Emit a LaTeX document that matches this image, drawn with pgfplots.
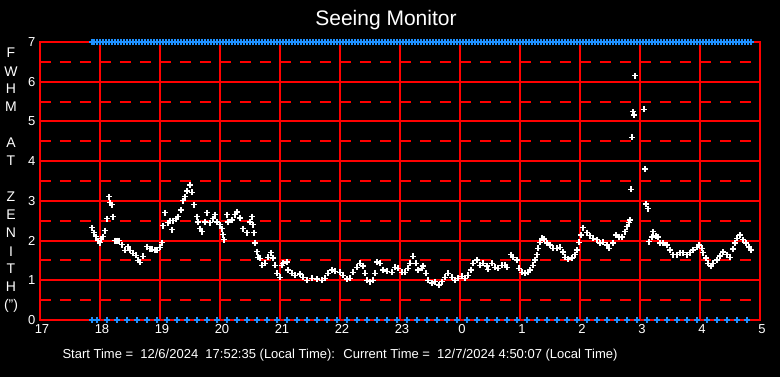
\documentclass[border=0pt]{standalone}
\usepackage{fontspec}
\setmainfont{Liberation Sans}
\usepackage{pgfplots}
\pgfplotsset{compat=1.18}
\definecolor{seeblue}{RGB}{30,144,255}
\tikzset{gridline/.style={red, line width=2pt}, halfline/.style={red, line width=2pt, dash pattern=on 11pt off 9pt}}
\begin{document}
\begin{tikzpicture}
\fill[black] (-40pt,-57pt) rectangle (740pt,320pt);
\begin{axis}[at={(0,0)}, anchor=south west, scale only axis,
  width=720pt, height=278pt,
  xmin=17, xmax=29, ymin=0, ymax=7,
  axis line style={red, line width=2pt},
  xtick={17,...,29}, xticklabels={17,18,19,20,21,22,23,0,1,2,3,4,5},
  ytick={0,...,7}, yticklabels={0,1,2,3,4,5,6,7},
  grid=none,
  tick style={draw=none}, major tick length=0pt,
  /pgf/number format/assume math mode=true,
  ticklabel style={white, font=\fontsize{13}{13}\selectfont},
  xticklabel style={yshift=-1pt, xshift=2pt},
  yticklabel style={xshift=-1pt},
  clip=false,
]
% grid
\draw[gridline] (axis cs:18,0) -- (axis cs:18,7);
\draw[gridline] (axis cs:19,0) -- (axis cs:19,7);
\draw[gridline] (axis cs:20,0) -- (axis cs:20,7);
\draw[gridline] (axis cs:21,0) -- (axis cs:21,7);
\draw[gridline] (axis cs:22,0) -- (axis cs:22,7);
\draw[gridline] (axis cs:23,0) -- (axis cs:23,7);
\draw[gridline] (axis cs:24,0) -- (axis cs:24,7);
\draw[gridline] (axis cs:25,0) -- (axis cs:25,7);
\draw[gridline] (axis cs:26,0) -- (axis cs:26,7);
\draw[gridline] (axis cs:27,0) -- (axis cs:27,7);
\draw[gridline] (axis cs:28,0) -- (axis cs:28,7);
\draw[gridline] (axis cs:17,1) -- (axis cs:29,1);
\draw[gridline] (axis cs:17,2) -- (axis cs:29,2);
\draw[gridline] (axis cs:17,3) -- (axis cs:29,3);
\draw[gridline] (axis cs:17,4) -- (axis cs:29,4);
\draw[gridline] (axis cs:17,5) -- (axis cs:29,5);
\draw[gridline] (axis cs:17,6) -- (axis cs:29,6);
\draw[halfline] (axis cs:17,0.5) -- (axis cs:29,0.5);
\draw[halfline] (axis cs:17,1.5) -- (axis cs:29,1.5);
\draw[halfline] (axis cs:17,2.5) -- (axis cs:29,2.5);
\draw[halfline] (axis cs:17,3.5) -- (axis cs:29,3.5);
\draw[halfline] (axis cs:17,4.5) -- (axis cs:29,4.5);
\draw[halfline] (axis cs:17,5.5) -- (axis cs:29,5.5);
\draw[halfline] (axis cs:17,6.5) -- (axis cs:29,6.5);
% top blue markers
\addplot[only marks, mark=+, mark size=3pt, seeblue, line width=1.2pt] coordinates {
(17.867,7)(17.9,7)(17.95,7)
(18,7)(18.05,7)(18.1,7)(18.15,7)(18.2,7)(18.25,7)(18.3,7)(18.35,7)(18.4,7)(18.45,7)(18.5,7)(18.55,7)(18.6,7)(18.65,7)(18.7,7)(18.75,7)(18.8,7)(18.85,7)(18.9,7)(18.95,7)
(19,7)(19.05,7)(19.1,7)(19.15,7)(19.2,7)(19.25,7)(19.3,7)(19.35,7)(19.4,7)(19.45,7)(19.5,7)(19.55,7)(19.6,7)(19.65,7)(19.7,7)(19.75,7)(19.8,7)(19.85,7)(19.9,7)(19.95,7)
(20,7)(20.05,7)(20.1,7)(20.15,7)(20.2,7)(20.25,7)(20.3,7)(20.35,7)(20.4,7)(20.45,7)(20.5,7)(20.55,7)(20.6,7)(20.65,7)(20.7,7)(20.75,7)(20.8,7)(20.85,7)(20.9,7)(20.95,7)
(21,7)(21.05,7)(21.1,7)(21.15,7)(21.2,7)(21.25,7)(21.3,7)(21.35,7)(21.4,7)(21.45,7)(21.5,7)(21.55,7)(21.6,7)(21.65,7)(21.7,7)(21.75,7)(21.8,7)(21.85,7)(21.9,7)(21.95,7)
(22,7)(22.05,7)(22.1,7)(22.15,7)(22.2,7)(22.25,7)(22.3,7)(22.35,7)(22.4,7)(22.45,7)(22.5,7)(22.55,7)(22.6,7)(22.65,7)(22.7,7)(22.75,7)(22.8,7)(22.85,7)(22.9,7)(22.95,7)
(23,7)(23.05,7)(23.1,7)(23.15,7)(23.2,7)(23.25,7)(23.3,7)(23.35,7)(23.4,7)(23.45,7)(23.5,7)(23.55,7)(23.6,7)(23.65,7)(23.7,7)(23.75,7)(23.8,7)(23.85,7)(23.9,7)(23.95,7)
(24,7)(24.05,7)(24.1,7)(24.15,7)(24.2,7)(24.25,7)(24.3,7)(24.35,7)(24.4,7)(24.45,7)(24.5,7)(24.55,7)(24.6,7)(24.65,7)(24.7,7)(24.75,7)(24.8,7)(24.85,7)(24.9,7)(24.95,7)
(25,7)(25.05,7)(25.1,7)(25.15,7)(25.2,7)(25.25,7)(25.3,7)(25.35,7)(25.4,7)(25.45,7)(25.5,7)(25.55,7)(25.6,7)(25.65,7)(25.7,7)(25.75,7)(25.8,7)(25.85,7)(25.9,7)(25.95,7)
(26,7)(26.05,7)(26.1,7)(26.15,7)(26.2,7)(26.25,7)(26.3,7)(26.35,7)(26.4,7)(26.45,7)(26.5,7)(26.55,7)(26.6,7)(26.65,7)(26.7,7)(26.75,7)(26.8,7)(26.85,7)(26.9,7)(26.95,7)
(27,7)(27.05,7)(27.1,7)(27.15,7)(27.2,7)(27.25,7)(27.3,7)(27.35,7)(27.4,7)(27.45,7)(27.5,7)(27.55,7)(27.6,7)(27.65,7)(27.7,7)(27.75,7)(27.8,7)(27.85,7)(27.9,7)(27.95,7)
(28,7)(28.05,7)(28.1,7)(28.15,7)(28.2,7)(28.25,7)(28.3,7)(28.35,7)(28.4,7)(28.45,7)(28.5,7)(28.55,7)(28.6,7)(28.65,7)(28.7,7)(28.75,7)(28.8,7)(28.85,7)
};
% bottom blue markers
\addplot[only marks, mark=+, mark size=3pt, seeblue, line width=1.2pt] coordinates {
(17.867,0)(17.95,0)
(18.117,0)(18.283,0)(18.45,0)(18.617,0)(18.783,0)(18.95,0)
(19.117,0)(19.283,0)(19.45,0)(19.617,0)(19.783,0)(19.95,0)
(20.117,0)(20.283,0)(20.45,0)(20.617,0)(20.783,0)(20.95,0)
(21.117,0)(21.283,0)(21.45,0)(21.617,0)(21.783,0)(21.95,0)
(22.117,0)(22.283,0)(22.45,0)(22.617,0)(22.783,0)(22.95,0)
(23.117,0)(23.283,0)(23.45,0)(23.617,0)(23.783,0)(23.95,0)
(24.117,0)(24.283,0)(24.45,0)(24.617,0)(24.783,0)(24.95,0)
(25.117,0)(25.283,0)(25.45,0)(25.617,0)(25.783,0)(25.95,0)
(26.117,0)(26.283,0)(26.45,0)(26.617,0)(26.783,0)(26.95,0)
(27.117,0)(27.283,0)(27.45,0)(27.617,0)(27.783,0)(27.95,0)
(28.117,0)(28.283,0)(28.45,0)(28.617,0)(28.783,0)
};
% FWHM data
\addplot[only marks, mark=+, mark size=3pt, white, line width=1.2pt] table {
x y
17.867 2.32
17.900 2.20
17.933 2.10
17.967 2.00
18.000 1.95
18.017 2.05
18.050 2.10
18.083 2.25
18.117 2.55
18.150 3.10
18.167 2.95
18.200 2.90
18.217 2.60
18.250 2.00
18.283 2.00
18.317 2.00
18.367 1.90
18.417 1.75
18.467 1.85
18.500 1.75
18.550 1.68
18.600 1.63
18.633 1.50
18.667 1.45
18.717 1.60
18.783 1.85
18.833 1.80
18.867 1.78
18.917 1.75
18.950 1.75
19.000 1.83
19.033 1.95
19.050 2.37
19.083 2.70
19.133 2.45
19.167 2.50
19.200 2.27
19.217 2.50
19.267 2.55
19.300 2.60
19.350 2.77
19.383 3.00
19.417 3.10
19.450 3.25
19.500 3.40
19.533 3.22
19.567 2.90
19.617 2.60
19.633 2.47
19.667 2.30
19.700 2.22
19.750 2.47
19.783 2.70
19.833 2.45
19.883 2.55
19.917 2.65
19.950 2.47
20.000 2.40
20.033 2.30
20.050 2.15
20.067 2.02
20.117 2.65
20.133 2.47
20.200 2.52
20.250 2.65
20.283 2.72
20.333 2.57
20.383 2.30
20.450 2.20
20.500 2.47
20.533 2.60
20.550 2.40
20.567 2.20
20.583 1.94
20.617 1.72
20.633 1.58
20.667 1.55
20.700 1.38
20.750 1.43
20.800 1.58
20.850 1.69
20.883 1.56
20.917 1.38
20.950 1.18
21.000 1.08
21.033 1.38
21.050 1.43
21.117 1.46
21.133 1.26
21.200 1.18
21.250 1.13
21.333 1.16
21.383 1.08
21.450 1.00
21.533 1.05
21.617 1.03
21.700 1.00
21.750 1.05
21.800 1.18
21.867 1.26
21.917 1.23
22.000 1.20
22.050 1.13
22.117 1.03
22.167 1.05
22.217 1.20
22.283 1.33
22.333 1.43
22.383 1.36
22.417 1.18
22.450 1.00
22.500 0.96
22.550 1.00
22.583 1.18
22.617 1.46
22.667 1.43
22.717 1.26
22.783 1.23
22.867 1.20
22.917 1.33
22.967 1.30
23.033 1.20
23.083 1.20
23.133 1.30
23.167 1.43
23.217 1.60
23.267 1.43
23.300 1.26
23.367 1.30
23.383 1.36
23.433 1.18
23.467 1.00
23.533 0.93
23.583 0.96
23.650 0.88
23.700 0.96
23.750 1.08
23.800 1.18
23.867 1.08
23.917 1.00
23.967 1.05
24.033 1.10
24.083 1.05
24.133 1.13
24.183 1.26
24.217 1.43
24.283 1.51
24.333 1.38
24.383 1.43
24.450 1.36
24.467 1.28
24.533 1.43
24.583 1.33
24.633 1.30
24.700 1.38
24.750 1.38
24.783 1.33
24.850 1.64
24.883 1.58
24.950 1.51
24.983 1.30
25.033 1.20
25.083 1.18
25.133 1.20
25.167 1.26
25.217 1.38
25.250 1.51
25.283 1.64
25.300 1.81
25.333 1.96
25.367 2.06
25.400 2.04
25.450 1.94
25.500 1.89
25.550 1.81
25.617 1.81
25.667 1.83
25.717 1.71
25.750 1.58
25.800 1.53
25.867 1.56
25.917 1.64
25.950 1.76
25.983 1.96
26.017 2.14
26.050 2.32
26.117 2.20
26.167 2.12
26.217 2.06
26.283 2.02
26.333 1.94
26.383 1.96
26.450 1.89
26.483 1.81
26.550 1.94
26.600 2.14
26.650 2.09
26.700 2.09
26.750 2.22
26.783 2.35
26.817 2.45
26.833 2.52
26.850 3.29
26.867 4.60
26.883 5.24
26.900 5.16
26.917 6.15
27.067 5.31
27.083 3.80
27.100 2.92
27.133 2.80
27.150 1.97
27.200 2.09
27.217 2.22
27.267 2.12
27.300 2.09
27.333 1.94
27.383 1.94
27.450 1.89
27.500 1.76
27.550 1.64
27.617 1.64
27.667 1.69
27.717 1.69
27.783 1.64
27.833 1.69
27.883 1.76
27.950 1.83
27.983 1.89
28.033 1.81
28.050 1.69
28.100 1.56
28.133 1.43
28.183 1.36
28.217 1.43
28.283 1.51
28.333 1.61
28.383 1.71
28.450 1.64
28.500 1.58
28.550 1.79
28.583 1.94
28.617 2.06
28.667 2.14
28.717 2.02
28.767 1.94
28.817 1.84
28.850 1.76
};
\end{axis}
\node[white, font=\fontsize{21}{21}\selectfont] at (346pt,300pt) {Seeing Monitor};
\node[white, font=\fontsize{13}{13}\selectfont] at (300pt,-35pt) {Start Time = \ 12/6/2024 \ 17:52:35 (Local Time): \ Current Time = \ 12/7/2024 4:50:07 (Local Time)};
\begin{scope}[every node/.style={white, font=\fontsize{14}{14}\selectfont, inner sep=0pt}]
\node at (-29pt,267pt) {F};
\node at (-29pt,248pt) {W};
\node at (-29pt,231pt) {H};
\node at (-29pt,213pt) {M};
\node at (-29pt,177pt) {A};
\node at (-29pt,159pt) {T};
\node at (-29pt,123pt) {Z};
\node at (-29pt,105pt) {E};
\node at (-29pt,87pt) {N};
\node at (-29pt,68pt) {I};
\node at (-29pt,51pt) {T};
\node at (-29pt,33pt) {H};
\node at (-29pt,14pt) {(")};
\end{scope}
\pgfresetboundingbox
\useasboundingbox (-40pt,-57pt) rectangle (740pt,320pt);
\end{tikzpicture}
\end{document}
